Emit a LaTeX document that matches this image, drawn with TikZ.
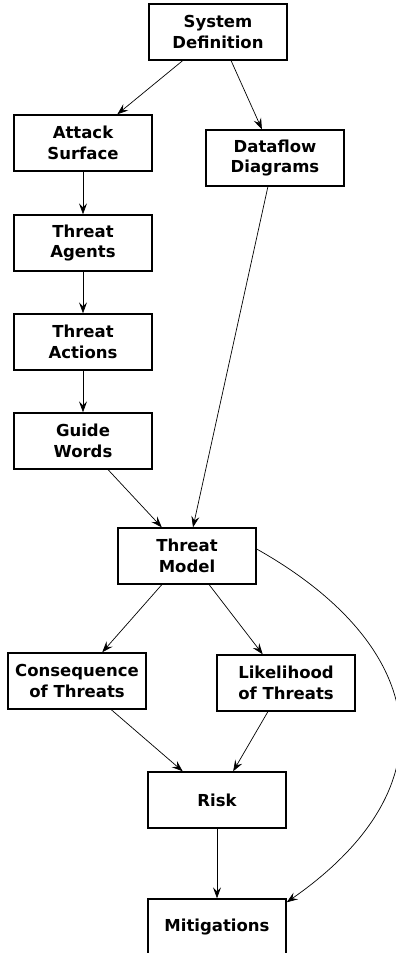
\documentclass[tikz,border=0pt]{standalone}
\usepackage{fontspec}
\setmainfont{DejaVu Sans}
\usetikzlibrary{arrows.meta,calc}
\begin{document}
\begin{tikzpicture}[x=1pt,y=-1pt,
  box/.style={draw=black,line width=1.4pt,rectangle,minimum width=138pt,minimum height=56pt,inner sep=0pt,align=center,font=\fontsize{16.5}{20.5}\selectfont\bfseries},
  edge/.style={draw=black,line width=0.7pt,-{Stealth[length=11pt,width=8pt,inset=4pt]}}]
\useasboundingbox (0,0) rectangle (396,953);
\node[box] (sys) at (218,32) {System\\Definition};
\node[box] (att) at (83,143) {Attack\\Surface};
\node[box] (dfd) at (275,158) {Dataflow\\Diagrams};
\node[box] (agt) at (83,243) {Threat\\Agents};
\node[box] (act) at (83,342) {Threat\\Actions};
\node[box] (gw) at (83,441) {Guide\\Words};
\node[box] (tm) at (187,556) {Threat\\Model};
\node[box] (con) at (77,681) {Consequence\\of Threats};
\node[box] (lik) at (286,683) {Likelihood\\of Threats};
\node[box] (risk) at (217,800) {Risk};
\node[box] (mit) at (217,927) {Mitigations};
\draw[edge] ($(sys.south west)!0.246!(sys.south east)$) -- ($(att.north west)!0.746!(att.north east)$);
\draw[edge] ($(sys.south west)!0.594!(sys.south east)$) -- ($(dfd.north west)!0.406!(dfd.north east)$);
\draw[edge] (att) -- (agt);
\draw[edge] (agt) -- (act);
\draw[edge] (act) -- (gw);
\draw[edge] ($(dfd.south west)!0.449!(dfd.south east)$) -- ($(tm.north west)!0.543!(tm.north east)$);
\draw[edge] ($(gw.south west)!0.68!(gw.south east)$) -- ($(tm.north west)!0.319!(tm.north east)$);
\draw[edge] ($(tm.south west)!0.319!(tm.south east)$) -- ($(con.north west)!0.681!(con.north east)$);
\draw[edge] ($(tm.south west)!0.659!(tm.south east)$) -- ($(lik.north west)!0.333!(lik.north east)$);
\draw[edge] ($(con.south west)!0.746!(con.south east)$) -- ($(risk.north west)!0.254!(risk.north east)$);
\draw[edge] ($(lik.south west)!0.37!(lik.south east)$) -- ($(risk.north west)!0.616!(risk.north east)$);
\draw[edge] (risk) -- (mit);
\draw[edge] ($(tm.east)+(0,-7)$) .. controls (427,645) and (455,785) .. ($(mit.north east)+(0,4)$);
\end{tikzpicture}
\end{document}
